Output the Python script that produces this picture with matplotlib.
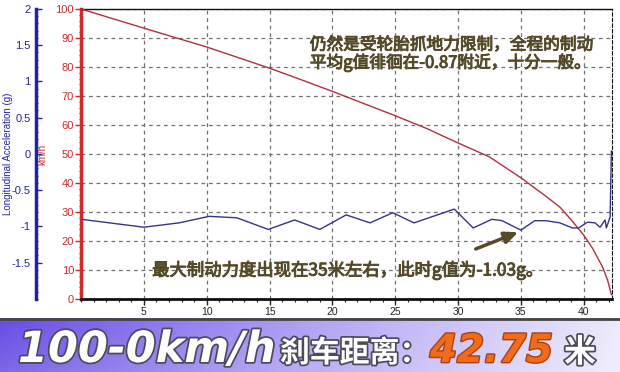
import numpy as np
import matplotlib
matplotlib.use("Agg")
import matplotlib.pyplot as plt
import matplotlib.patheffects as pe
from matplotlib.ticker import MultipleLocator, FixedLocator

plt.rcParams['font.family'] = ['Liberation Sans', 'Noto Sans CJK SC', 'DejaVu Sans']

# speed trace (distance in m, speed in km/h)
speed_dist = [0, 5, 10, 15, 17.4, 20, 22.5, 25, 27.5, 29.9, 32.5, 35, 37, 38.1, 39.1, 40, 40.7, 41.5, 41.9, 42.2]
speed_kmh = [100, 93.4, 86.9, 79.6, 75.8, 71.6, 67.4, 63.2, 58.8, 54.0, 49.0, 41.8, 35.4, 31.7, 26.8, 22.0, 17.5, 11.0, 6.5, 1.5]

# longitudinal acceleration (g)
acc_dist = [0, 5, 7.8, 10.2, 12.4, 14.9, 17, 19, 21.1, 23, 24.8, 26.5, 29.7, 31.2, 32.7,
            33.5, 35, 36.1, 37, 38.1, 39.1, 39.6, 40.3, 40.9, 41.3, 41.7, 41.8, 42.1, 42.2]
acc_g = [-0.90, -1.01, -0.95, -0.86, -0.88, -1.04, -0.91, -1.04, -0.84, -0.95, -0.81, -0.95, -0.76, -1.02, -0.90,
         -0.92, -1.05, -0.92, -0.92, -0.95, -1.02, -1.02, -0.94, -0.95, -1.01, -0.91, -1.02, -0.87, 0.04]

kmh_ticks = list(range(0, 101, 10))
g_ticks = [-1.5, -1, -0.5, 0, 0.5, 1, 1.5, 2]
g_labels = ['-1.5', '-1', '-0.5', '0', '0.5', '1', '1.5', '2']
x_ticks = [5, 10, 15, 20, 25, 30, 35, 40]

note_top = "仍然是受轮胎抓地力限制，全程的制动\n平均g值徘徊在-0.87附近，十分一般。"
note_bottom = "最大制动力度出现在35米左右，此时g值为-1.03g。"

RED = '#d22a2a'
BLUE = '#24249a'
TEXT = '#554a28'

fig = plt.figure(figsize=(6.2, 3.72), dpi=100)
fig.patch.set_facecolor('white')

# main axes: speed (red scale)
ax = fig.add_axes([81/620, 1-299/372, 531/620, 290/372])
ax.set_xlim(0, 42.25)
ax.set_ylim(0, 100)
ax.grid(True, linestyle=(0, (3, 3)), color='#707070', lw=0.9)
ax.set_axisbelow(True)
ax.plot(speed_dist, speed_kmh, color='#b0303e', lw=1.0, zorder=3)

ax.xaxis.set_major_locator(FixedLocator(x_ticks))
ax.xaxis.set_minor_locator(MultipleLocator(1))
ax.yaxis.set_major_locator(FixedLocator(kmh_ticks))
ax.yaxis.set_minor_locator(MultipleLocator(2))
ax.tick_params(axis='x', which='major', length=4, width=1, color='#222', labelsize=7.5, labelcolor='#222', pad=2)
ax.tick_params(axis='x', which='minor', length=2, width=0.8, color='#222')
ax.tick_params(axis='y', which='major', length=4, width=1, color=RED, labelsize=8, labelcolor=RED, pad=1)
ax.tick_params(axis='y', which='minor', length=1.5, width=0.8, color=RED)
ax.spines['left'].set_color(RED)
ax.spines['left'].set_linewidth(2.5)
ax.spines['bottom'].set_color('#111')
ax.spines['bottom'].set_linewidth(2)
ax.spines['top'].set_color('#111')
ax.spines['top'].set_linewidth(1)
ax.spines['right'].set_color('#111')
ax.spines['right'].set_linestyle((0, (3, 2)))
ax.set_ylabel('km/h', color=RED, fontsize=7)
ax.yaxis.set_label_coords(-34/531, 0.5)

# twin axes: acceleration (blue scale), spine moved out to the left
ax2 = ax.twinx()
ax2.set_ylim(-2, 2)
ax2.plot(acc_dist, acc_g, color='#34348a', lw=1.0, zorder=4)
ax2.yaxis.set_ticks_position('left')
ax2.yaxis.set_label_position('left')
ax2.spines['left'].set_position(('axes', -45/531))
ax2.spines['left'].set_color(BLUE)
ax2.spines['left'].set_linewidth(2.5)
for s in ['right', 'top', 'bottom']:
    ax2.spines[s].set_visible(False)
ax2.yaxis.set_major_locator(FixedLocator(g_ticks))
ax2.set_yticklabels(g_labels)
ax2.yaxis.set_minor_locator(MultipleLocator(0.1))
ax2.tick_params(axis='y', which='major', direction='in', length=4, width=1, color=BLUE,
                labelsize=8, labelcolor=BLUE, pad=4)
ax2.tick_params(axis='y', which='minor', direction='in', length=1.5, width=0.8, color=BLUE)
ax2.set_ylabel('Longitudinal Acceleration (g)', color=BLUE, fontsize=7)
ax2.yaxis.set_label_coords(-68/531, 0.5)

# annotations - regular weight thickened a little with a thin stroke
cjk = ['Noto Sans CJK SC', 'DejaVu Sans']
thick = [pe.withStroke(linewidth=0.7, foreground=TEXT)]
ax.text(0.431, 0.905, note_top, transform=ax.transAxes, ha='left', va='top',
        fontsize=12, color=TEXT, style='italic', family=cjk, linespacing=1.0, zorder=6, path_effects=thick)
ax.text(0.134, 0.10, note_bottom, transform=ax.transAxes, ha='left', va='center',
        fontsize=12.5, color=TEXT, style='italic', family=cjk, zorder=6, path_effects=thick)
ax.annotate('', xy=(35, 23.4), xytext=(31.2, 16.9),
            arrowprops=dict(arrowstyle='-|>,head_length=0.8,head_width=0.35', color='#584a28', lw=2.5),
            zorder=6)

# bottom banner with gradient
bax = fig.add_axes([0, 0, 1, 54/372])
bax.set_axis_off()
xs = np.linspace(0, 1, 200)
ys = np.linspace(0, 1, 30)
left_c = np.array([104, 76, 228]) / 255
mid_c = np.array([178, 160, 244]) / 255
right_c = np.array([236, 234, 252]) / 255
grad = np.zeros((30, 200, 3))
for i, t in enumerate(xs):
    if t < 0.5:
        c = left_c + (mid_c - left_c) * (t / 0.5)
    else:
        c = mid_c + (right_c - mid_c) * ((t - 0.5) / 0.5)
    grad[:, i, :] = c
# a bit lighter toward the bottom
for j, s in enumerate(ys):
    grad[j] = grad[j] + (1 - grad[j]) * 0.15 * s
grad = np.clip(grad, 0, 1)
bax.imshow(grad, aspect='auto', extent=[0, 1, 0, 1], origin='upper')
bax.set_xlim(0, 1)
bax.set_ylim(0, 1)
bax.axhline(0.985, color='#444', lw=2)

outline = [pe.withStroke(linewidth=2.5, foreground='#4a4a5a')]
base_y = 10/372
fig.text(18/620, base_y, '100-0km/h', color='white', fontsize=31, weight='bold', style='italic',
         family=['DejaVu Sans'], path_effects=outline, va='baseline')
fig.text(280/620, base_y, '刹车距离：', color='white', fontsize=21.5, weight='bold',
         family=['Noto Sans CJK SC'], path_effects=outline, va='baseline')
fig.text(430/620, base_y, '42.75', color='#f26a1c', fontsize=28, weight='bold', style='italic',
         family=['DejaVu Sans'], path_effects=[pe.withStroke(linewidth=2, foreground='#a8420e')], va='baseline')
fig.text(564/620, base_y, '米', color='white', fontsize=23, weight='bold',
         family=['Noto Sans CJK SC'], path_effects=outline, va='baseline')

fig.savefig('out.png', dpi=100)
